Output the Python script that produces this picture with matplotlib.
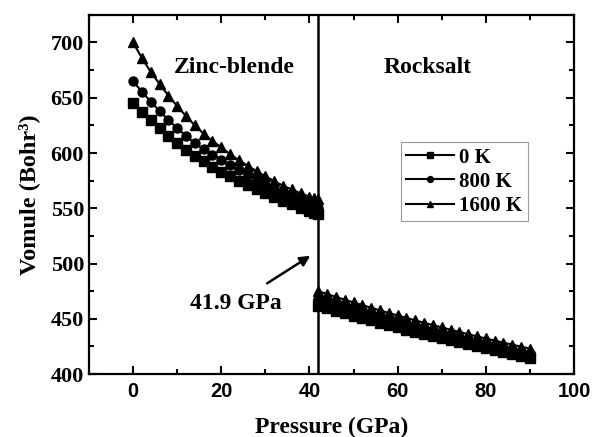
import numpy as np
import matplotlib.pyplot as plt
from matplotlib.ticker import MultipleLocator

# zinc-blende phase
p_zb = [0, 2, 4, 6, 8, 10, 12, 14, 16, 18, 20, 22, 24, 26, 28, 30, 32, 34, 36, 38, 40, 41, 41.9]
v_zb_0k = [645, 637, 629.5, 622.5, 615.5, 609, 603, 597.5, 592.5, 587.5, 583,
           579, 575, 571, 567, 563.5, 560, 556.5, 553.5, 550.5, 547.5, 546, 545]
v_zb_800k = [665, 655.5, 646.5, 638, 630, 622.5, 615.5, 609, 603.5, 598.5, 594,
             589, 584.5, 580, 575.5, 571.5, 567.5, 563.5, 560, 556.5, 553, 551.5, 550]
v_zb_1600k = [700, 686, 673.5, 662.5, 652, 642.5, 633.5, 625, 617.5, 611, 605,
              599, 593.5, 588.5, 583.5, 579, 574.5, 570.5, 567, 563.5, 560.5, 559, 558]

# rocksalt phase
p_rs = [42, 44, 46, 48, 50, 52, 54, 56, 58, 60, 62, 64, 66, 68, 70, 72, 74, 76, 78, 80, 82, 84, 86, 88, 90]
v_rs_0k = [462.0, 459.7, 457.4, 455.1, 452.9, 450.7, 448.5, 446.4, 444.3, 442.2, 440.2, 438.2, 436.2,
           434.3, 432.4, 430.5, 428.6, 426.8, 425.0, 423.2, 421.5, 419.8, 418.1, 416.4, 414.8]
v_rs_800k = [467.0, 464.6, 462.2, 459.8, 457.5, 455.2, 453.0, 450.8, 448.6, 446.5, 444.4, 442.3, 440.3,
             438.3, 436.3, 434.3, 432.4, 430.5, 428.6, 426.8, 425.0, 423.2, 421.5, 419.8, 418.1]
v_rs_1600k = [475.0, 472.4, 469.8, 467.3, 464.8, 462.4, 460.0, 457.6, 455.3, 453.0, 450.8, 448.6, 446.4,
              444.3, 442.2, 440.1, 438.1, 436.1, 434.1, 432.2, 430.3, 428.4, 426.6, 424.8, 423.0]

labels = ["0 K", "800 K", "1600 K"]
markers = ["s", "o", "^"]
p_trans = 41.9

serif = "Liberation Serif"
sans = "Liberation Sans"

fig = plt.figure(figsize=(5.93, 4.37), dpi=100)
ax = fig.add_axes([0.150, 0.144, 0.818, 0.822])

zb = [v_zb_0k, v_zb_800k, v_zb_1600k]
rs = [v_rs_0k, v_rs_800k, v_rs_1600k]
for v1, v2, m, lab in zip(zb, rs, markers, labels):
    ax.plot(p_zb, v1, color="black", marker=m, markersize=6.5, linewidth=1.5, label=lab)
    ax.plot(p_rs, v2, color="black", marker=m, markersize=7, linewidth=1.5)

ax.axvline(p_trans, color="black", linewidth=1.8)

ax.set_xlim(-10, 100)
ax.set_ylim(400, 725)
ax.xaxis.set_major_locator(MultipleLocator(20))
ax.xaxis.set_minor_locator(MultipleLocator(10))
ax.yaxis.set_major_locator(MultipleLocator(50))
ax.yaxis.set_minor_locator(MultipleLocator(25))
ax.tick_params(which="both", direction="in", top=True, right=True, width=1.5)
ax.tick_params(which="major", length=6)
ax.tick_params(which="minor", length=3.5)
ax.tick_params(axis="x", pad=6)
for s in ax.spines.values():
    s.set_linewidth(1.6)

for t in ax.get_xticklabels():
    t.set_fontfamily(sans)
    t.set_fontweight("bold")
    t.set_fontsize(14.5)
for t in ax.get_yticklabels():
    t.set_fontfamily(serif)
    t.set_fontweight("bold")
    t.set_fontsize(16)

ax.set_xlabel("Pressure (GPa)", fontfamily=serif, fontweight="bold", fontsize=17, labelpad=11)
ax.set_ylabel("Vomule (Bohr³)", fontfamily=serif, fontweight="bold", fontsize=17.5, labelpad=8)

ax.text(23, 677, "Zinc-blende", ha="center", va="center", fontfamily=serif, fontweight="bold", fontsize=17)
ax.text(66.7, 677, "Rocksalt", ha="center", va="center", fontfamily=serif, fontweight="bold", fontsize=17)
ax.annotate("41.9 GPa", xy=(40.2, 507), xytext=(23.3, 464), ha="center", va="center",
            fontfamily=serif, fontweight="bold", fontsize=17,
            arrowprops=dict(arrowstyle="-|>", color="black", lw=1.8, mutation_scale=15,
                            shrinkA=9, shrinkB=0))

leg = ax.legend(loc="upper left", bbox_to_anchor=(0.643, 0.645), frameon=True, fancybox=False,
                prop={"family": serif, "weight": "bold", "size": 15}, handlelength=2.3,
                handletextpad=0.25, labelspacing=0.2, borderpad=0.25, borderaxespad=0,
                markerscale=0.65)
leg.get_frame().set_edgecolor("gray")
leg.get_frame().set_linewidth(0.8)

fig.savefig("out.png", dpi=100)
